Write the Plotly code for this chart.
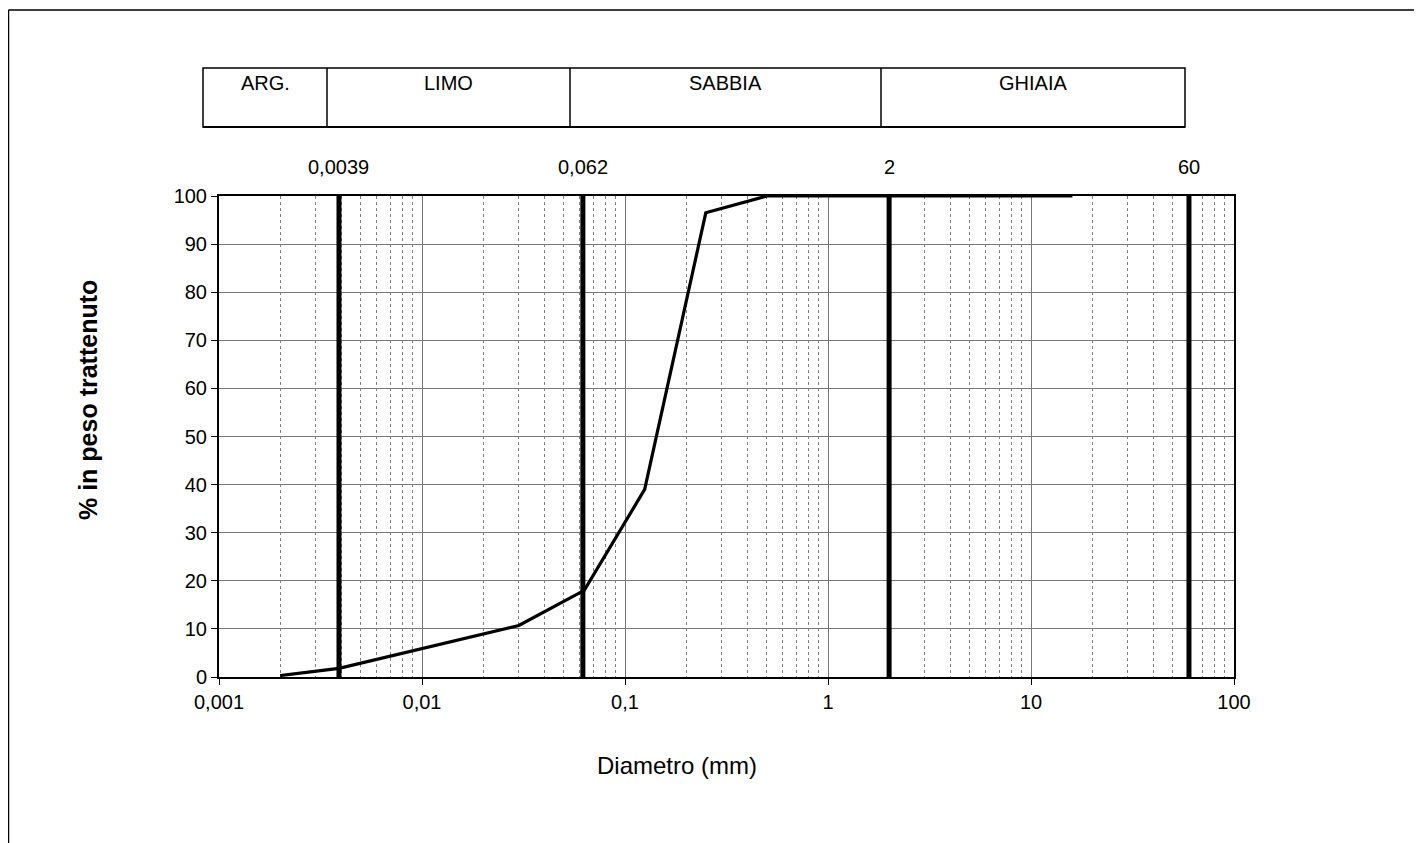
import math
import plotly.graph_objects as go

# Data
diametro = [0.002, 0.0039, 0.03, 0.063, 0.125, 0.25, 0.5, 1, 2, 4, 8, 16]
trattenuto = [0.3, 1.8, 10.7, 18.0, 39.0, 96.5, 100, 100, 100, 100, 100, 100]

limiti = [0.0039, 0.062, 2, 60]
limiti_label = ["0,0039", "0,062", "2", "60"]

classi = ["ARG.", "LIMO", "SABBIA", "GHIAIA"]

x_tickvals = [0.001, 0.01, 0.1, 1, 10, 100]
x_ticktext = ["0,001", "0,01", "0,1", "1", "10", "100"]
y_tickvals = [0, 10, 20, 30, 40, 50, 60, 70, 80, 90, 100]

FONT = "Liberation Sans, Arial, sans-serif"

fig = go.Figure()

for lv in limiti:
    fig.add_trace(go.Scatter(x=[lv, lv], y=[0, 100], mode="lines",
                             line=dict(color="black", width=5),
                             hoverinfo="skip", showlegend=False))

fig.add_trace(go.Scatter(x=diametro, y=trattenuto, mode="lines",
                         line=dict(color="black", width=3.2),
                         showlegend=False))

OFF = 8  # page offset of the figure
W, H = 1422 - OFF, 843 - OFF
PL, PR, PT, PB = 219, 1234, 196, 677  # plot area in page pixels
L = PL - OFF
T = PT - OFF
pw = PR - PL
ph = PB - PT
R = W - L - pw
B = H - T - ph


def px_x(p):
    return (p - PL) / pw


def px_y(p):
    return (PB - p) / ph


fig.update_layout(
    width=W, height=H,
    margin=dict(l=L, r=R, t=T, b=B),
    paper_bgcolor="white", plot_bgcolor="white",
    font=dict(family=FONT, size=20, color="black"),
    showlegend=False,
)

fig.update_xaxes(
    type="log", range=[-3, 2],
    tickvals=x_tickvals, ticktext=x_ticktext,
    ticks="outside", ticklen=6, tickcolor="black", tickwidth=1,
    showline=True, linecolor="black", linewidth=2, mirror=True,
    showgrid=True, gridcolor="#777777", gridwidth=1,
    minor=dict(showgrid=True, gridcolor="#808080", griddash="dot", gridwidth=1,
               dtick="D1", ticks=""),
    tickfont=dict(size=20), zeroline=False,
)
fig.update_yaxes(
    range=[0, 100], tickvals=y_tickvals,
    ticks="outside", ticklen=6, tickcolor="black", tickwidth=1,
    showline=True, linecolor="black", linewidth=2, mirror=True,
    showgrid=True, gridcolor="#777777", gridwidth=1,
    tickfont=dict(size=20), zeroline=False,
)

shapes = []
# outer chart border (top and left visible)
shapes.append(dict(type="line", xref="paper", yref="paper",
                   x0=px_x(8.5), y0=px_y(10), x1=px_x(1500), y1=px_y(10),
                   line=dict(color="black", width=1.5)))
shapes.append(dict(type="line", xref="paper", yref="paper",
                   x0=px_x(8.5), y0=px_y(10), x1=px_x(8.5), y1=px_y(900),
                   line=dict(color="black", width=1.5)))
# header table
tx0, tx1 = 203, 1185
ty0, ty1 = 68, 127
shapes.append(dict(type="rect", xref="paper", yref="paper",
                   x0=px_x(tx0), x1=px_x(tx1), y0=px_y(ty1), y1=px_y(ty0),
                   line=dict(color="black", width=1.5)))
shapes.append(dict(type="line", xref="paper", yref="paper",
                   x0=px_x(tx0), x1=px_x(tx1), y0=px_y(ty1), y1=px_y(ty1),
                   line=dict(color="black", width=2)))
dividers = [327, 570, 881]
for d in dividers:
    shapes.append(dict(type="line", xref="paper", yref="paper",
                       x0=px_x(d), x1=px_x(d), y0=px_y(ty1), y1=px_y(ty0),
                       line=dict(color="black", width=1.5)))

annotations = []
cols = [tx0] + dividers + [tx1]
for i, name in enumerate(classi):
    cx = (cols[i] + cols[i + 1]) / 2
    annotations.append(dict(text=name, xref="paper", yref="paper",
                            x=px_x(cx), y=px_y(83), showarrow=False,
                            xanchor="center", yanchor="middle",
                            font=dict(size=20, family=FONT)))
for lv, lab in zip(limiti, limiti_label):
    annotations.append(dict(text=lab, xref="x", yref="paper",
                            x=math.log10(lv), y=px_y(167),
                            xanchor="center", yanchor="middle",
                            showarrow=False, font=dict(size=20, family=FONT)))
annotations.append(dict(text="<b>% in peso trattenuto</b>", xref="paper", yref="paper",
                        x=px_x(88), y=px_y(400), textangle=-90, showarrow=False,
                        xanchor="center", yanchor="middle",
                        font=dict(size=25, family=FONT)))
annotations.append(dict(text="Diametro (mm)", xref="paper", yref="paper",
                        x=px_x(677), y=px_y(765), showarrow=False,
                        xanchor="center", yanchor="middle",
                        font=dict(size=24, family=FONT)))

fig.update_layout(shapes=shapes, annotations=annotations)

fig.write_html("out.html")
